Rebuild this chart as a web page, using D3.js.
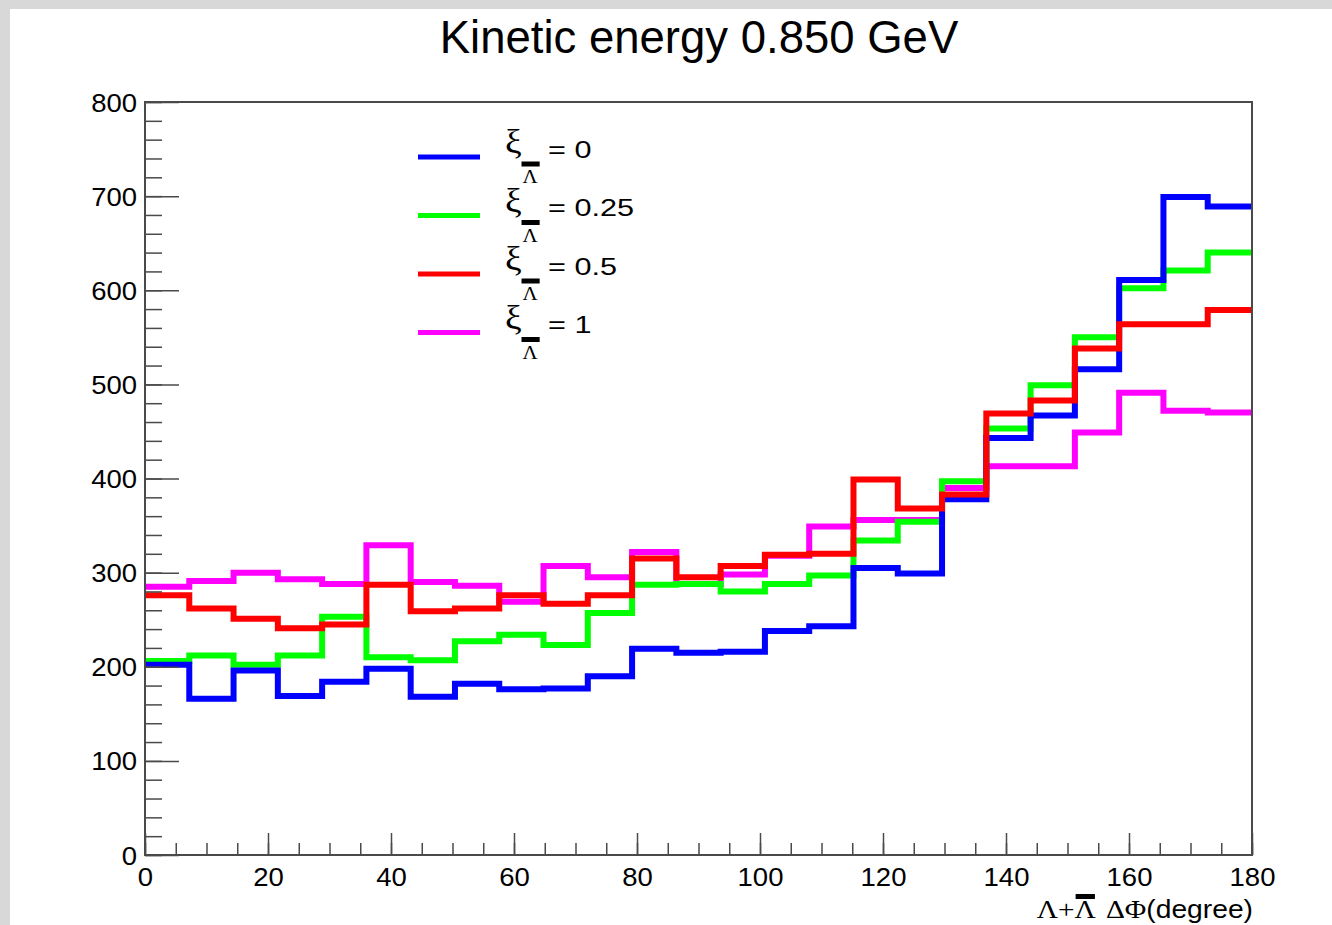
<!DOCTYPE html>
<html><head><meta charset="utf-8">
<script src="https://cdn.jsdelivr.net/npm/d3@7"></script>
<style>body{margin:0;background:#d8d8d8;overflow:hidden} svg{display:block}</style>
</head><body>
<svg id="c" width="1332" height="925"></svg>
<script>
// ---- data ----
const binEdges = [0,7.2,14.4,21.6,28.8,36,43.2,50.4,57.6,64.8,72,79.2,86.4,93.6,100.8,108,115.2,122.4,129.6,136.8,144,151.2,158.4,165.6,172.8,180];
const xi0    = [202,166,196,169,184,198,168,182,176,177,190,219,215,216,238,243,305,299,378,443,467,516,611,699,689];
const xi025  = [206,212,202,212,253,210,207,227,234,223,257,287,288,280,288,297,334,354,397,453,499,550,602,621,640];
const xi05   = [276,262,251,241,245,287,259,262,276,267,276,315,295,307,319,320,399,368,383,469,483,538,564,564,579];
const xi1    = [285,291,300,293,288,329,290,286,269,307,295,322,288,298,318,349,356,356,390,413,413,449,491,472,470];
const seriesLabels = ["0","0.25","0.5","1"];
const seriesColors = ["#0000ff","#00ff00","#ff0000","#ff00ff"];
const drawOrder = [3,1,0,2];
const xTickValues = [0,20,40,60,80,100,120,140,160,180];
const yTickValues = [0,100,200,300,400,500,600,700,800];
const titleText = "Kinetic energy 0.850 GeV";

const series = [xi0, xi025, xi05, xi1];

const svg = d3.select("#c");
const W = 1332, H = 925;
svg.append("rect").attr("width",W).attr("height",H).attr("fill","#d8d8d8");
svg.append("rect").attr("x",10).attr("y",9).attr("width",W-10).attr("height",H-9).attr("fill","#ffffff");

const plot = {l:145, r:1252, t:102, b:855};
const x = d3.scaleLinear().domain([0,180]).range([plot.l, plot.r]);
const y = d3.scaleLinear().domain([0,800]).range([plot.b, plot.t]);

const SANS = "'Liberation Sans', Arial, Helvetica, sans-serif";
const SERIF = "'Liberation Serif', 'Times New Roman', serif";
const AX = "#4a4a4a";

// title
svg.append("text").attr("x",699).attr("y",53).attr("text-anchor","middle")
  .attr("font-family",SANS).attr("font-size",45.5).attr("fill","#000").text(titleText);

// histograms
const line = d3.line().x(d=>x(d[0])).y(d=>y(d[1])).curve(d3.curveStepAfter);
drawOrder.forEach(i=>{
  const vals = series[i];
  const pts = vals.map((v,k)=>[binEdges[k], v]);
  pts.push([binEdges[binEdges.length-1], vals[vals.length-1]]);
  svg.append("path").attr("d", line(pts)).attr("fill","none")
    .attr("stroke", seriesColors[i]).attr("stroke-width",6).attr("stroke-linejoin","miter").attr("stroke-linecap","butt");
});

// axes
const sx = 1.1;
const yMinor = svg.append("g").attr("transform",`translate(${plot.l},0)`)
  .call(d3.axisLeft(y).tickValues(d3.range(0,801,20)).tickSizeInner(-17).tickSizeOuter(0).tickFormat(""));
const yMajor = svg.append("g").attr("transform",`translate(${plot.l},0)`)
  .call(d3.axisLeft(y).tickValues(yTickValues).tickSizeInner(-34).tickSizeOuter(0).tickPadding(8));
const xMinor = svg.append("g").attr("transform",`translate(0,${plot.b})`)
  .call(d3.axisBottom(x).tickValues(d3.range(0,181,5)).tickSizeInner(-12).tickSizeOuter(0).tickFormat(""));
const xMajor = svg.append("g").attr("transform",`translate(0,${plot.b})`)
  .call(d3.axisBottom(x).tickValues(xTickValues).tickSizeInner(-22).tickSizeOuter(0).tickPadding(10));
[yMinor,yMajor,xMinor,xMajor].forEach(g=>{
  g.select(".domain").remove();
  g.selectAll(".tick line").attr("stroke",AX).attr("stroke-width",1.5);
});
yMajor.selectAll(".tick text").attr("x",null).attr("dy",null)
  .attr("transform",`translate(-8,9) scale(${sx},1)`)
  .attr("font-family",SANS).attr("font-size",25).attr("fill","#000");
xMajor.selectAll(".tick text").attr("y",null).attr("dy",null)
  .attr("transform",`translate(0,31) scale(${sx},1)`)
  .attr("font-family",SANS).attr("font-size",25).attr("fill","#000");

// frame
svg.append("rect").attr("x",plot.l).attr("y",plot.t).attr("width",plot.r-plot.l).attr("height",plot.b-plot.t)
  .attr("fill","none").attr("stroke",AX).attr("stroke-width",2);

// helper for sequential text runs
function drawRuns(g, runs, y0, s){
  let cx = 0;
  runs.forEach(r=>{
    const t = g.append("text").attr("transform",`translate(${cx},${y0+(r.dy||0)}) scale(${s},1)`)
      .attr("font-family",r.family).attr("font-size",r.size).attr("fill","#000").text(r.text);
    const w = t.node().getComputedTextLength()*s;
    r.x = cx; r.w = w;
    cx += w + (r.gap||0);
  });
  return cx;
}

// x-axis title
const xt = svg.append("g");
const runs = [
  {text:"Λ", family:SERIF, size:26},
  {text:"+", family:SERIF, size:26},
  {text:"Λ", family:SERIF, size:26, gap:10},
  {text:"ΔΦ", family:SERIF, size:26},
  {text:"(degree)", family:SANS, size:25}
];
const total = drawRuns(xt, runs, 0, 1.13);
const lb = runs[2];
xt.append("rect").attr("x",lb.x+1).attr("y",-24).attr("width",lb.w-2).attr("height",5).attr("fill","#000");
xt.attr("transform",`translate(${1253-total},918)`);

// legend
const leg = svg.append("g");
seriesLabels.forEach((lab,i)=>{
  const ry = 157 + i*58.5;
  leg.append("line").attr("x1",418).attr("x2",480).attr("y1",ry).attr("y2",ry)
    .attr("stroke",seriesColors[i]).attr("stroke-width",5);
  leg.append("text").attr("transform",`translate(505,${ry-4}) scale(1.1,1)`)
    .attr("font-family",SERIF).attr("font-size",34).attr("fill","#000").text("ξ");
  const lam = leg.append("text").attr("transform",`translate(522.5,${ry+26}) scale(1.1,1)`)
    .attr("font-family",SERIF).attr("font-size",19).attr("fill","#000").text("Λ");
  const lw = lam.node().getComputedTextLength()*1.1;
  leg.append("rect").attr("x",521.5).attr("y",ry+4.5).attr("width",lw+3).attr("height",5).attr("fill","#000");
  leg.append("text").attr("transform",`translate(548,${ry+0.5}) scale(1.25,1)`)
    .attr("font-family",SANS).attr("font-size",24.5).attr("fill","#000").text("= " + lab);
});
</script>
</body></html>
